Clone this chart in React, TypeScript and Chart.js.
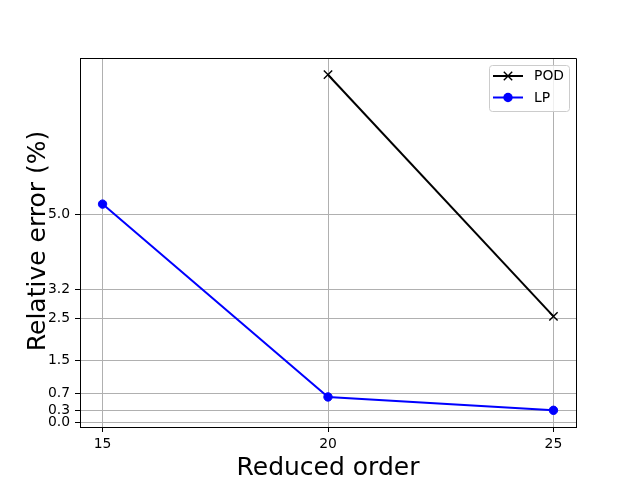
import React, { useEffect, useRef } from "react";
import { Chart, registerables } from "chart.js";

Chart.register(...registerables);

const orders = [15, 20, 25];
const podErrors: (number | null)[] = [null, 8.34, 2.55];
const lpErrors: (number | null)[] = [5.24, 0.62, 0.30];
const yTickValues = [0.0, 0.3, 0.7, 1.5, 2.5, 3.2, 5.0];
const xTickValues = [15, 20, 25];
const seriesNames = ["POD", "LP"];
const xTitle = "Reduced order";
const yTitle = "Relative error (%)";

const FONT = "'DejaVu Sans', 'Liberation Sans', sans-serif";

function toPoints(vals: (number | null)[]) {
  const pts: { x: number; y: number }[] = [];
  orders.forEach((o, i) => {
    const v = vals[i];
    if (v !== null && v !== undefined) pts.push({ x: o, y: v });
  });
  return pts;
}

const framePlugin = {
  id: "frameAndLabels",
  afterDraw(chart: any) {
    const { ctx, chartArea } = chart;
    ctx.save();
    // top & right spines
    ctx.strokeStyle = "#000";
    ctx.lineWidth = 1;
    ctx.beginPath();
    ctx.moveTo(Math.round(chartArea.left) + 0.5, Math.round(chartArea.top) + 0.5);
    ctx.lineTo(Math.round(chartArea.right) + 0.5, Math.round(chartArea.top) + 0.5);
    ctx.lineTo(Math.round(chartArea.right) + 0.5, Math.round(chartArea.bottom) + 0.5);
    ctx.stroke();

    // axis titles
    ctx.fillStyle = "#000";
    ctx.font = `25px ${FONT}`;
    ctx.textAlign = "center";
    ctx.textBaseline = "alphabetic";
    ctx.fillText(xTitle, (chartArea.left + chartArea.right) / 2, 475);
    ctx.save();
    ctx.translate(45, 241);
    ctx.rotate(-Math.PI / 2);
    ctx.fillText(yTitle, 0, 0);
    ctx.restore();

    // legend
    const lx = 489.5, ly = 65.5, lw = 80, lh = 46, r = 3;
    ctx.beginPath();
    ctx.moveTo(lx + r, ly);
    ctx.lineTo(lx + lw - r, ly);
    ctx.quadraticCurveTo(lx + lw, ly, lx + lw, ly + r);
    ctx.lineTo(lx + lw, ly + lh - r);
    ctx.quadraticCurveTo(lx + lw, ly + lh, lx + lw - r, ly + lh);
    ctx.lineTo(lx + r, ly + lh);
    ctx.quadraticCurveTo(lx, ly + lh, lx, ly + lh - r);
    ctx.lineTo(lx, ly + r);
    ctx.quadraticCurveTo(lx, ly, lx + r, ly);
    ctx.closePath();
    ctx.fillStyle = "rgba(255,255,255,0.8)";
    ctx.fill();
    ctx.strokeStyle = "#cccccc";
    ctx.lineWidth = 1;
    ctx.stroke();

    const rows = [
      { name: seriesNames[0], color: "#000000", y: 76, marker: "x" },
      { name: seriesNames[1], color: "#0000ff", y: 97.5, marker: "o" },
    ];
    rows.forEach((row) => {
      ctx.strokeStyle = row.color;
      ctx.lineWidth = 2;
      ctx.beginPath();
      ctx.moveTo(493, row.y);
      ctx.lineTo(523, row.y);
      ctx.stroke();
      const mx = 508;
      if (row.marker === "x") {
        ctx.lineWidth = 1.4;
        ctx.beginPath();
        ctx.moveTo(mx - 4.2, row.y - 4.2);
        ctx.lineTo(mx + 4.2, row.y + 4.2);
        ctx.moveTo(mx - 4.2, row.y + 4.2);
        ctx.lineTo(mx + 4.2, row.y - 4.2);
        ctx.stroke();
      } else {
        ctx.fillStyle = row.color;
        ctx.beginPath();
        ctx.arc(mx, row.y, 4.7, 0, Math.PI * 2);
        ctx.fill();
      }
      ctx.fillStyle = "#000";
      ctx.font = `13.9px ${FONT}`;
      ctx.textAlign = "left";
      ctx.textBaseline = "middle";
      ctx.fillText(row.name, 534, row.y + 0.5);
    });
    ctx.restore();
  },
};

export default function App() {
  const ref = useRef<HTMLCanvasElement | null>(null);

  useEffect(() => {
    document.body.style.margin = "0";
    const canvas = ref.current;
    if (!canvas) return;
    const chart = new Chart(canvas, {
      type: "line",
      data: {
        datasets: [
          {
            label: seriesNames[0],
            data: toPoints(podErrors),
            borderColor: "#000000",
            backgroundColor: "#000000",
            borderWidth: 2,
            pointStyle: "crossRot",
            pointRadius: 5.9,
            pointBorderWidth: 1.4,
            pointBorderColor: "#000000",
            tension: 0,
          },
          {
            label: seriesNames[1],
            data: toPoints(lpErrors),
            borderColor: "#0000ff",
            backgroundColor: "#0000ff",
            borderWidth: 2,
            pointStyle: "circle",
            pointRadius: 4.2,
            pointBorderWidth: 1,
            pointBorderColor: "#0000ff",
            pointBackgroundColor: "#0000ff",
            tension: 0,
          },
        ],
      },
      options: {
        animation: false,
        responsive: false,
        devicePixelRatio: 1,
        layout: { padding: { top: 58, right: 64, left: 0, bottom: 0 } },
        plugins: {
          legend: { display: false },
          tooltip: { enabled: false },
        },
        scales: {
          x: {
            type: "linear",
            min: 14.5,
            max: 25.5,
            afterFit(scale: any) {
              scale.height = 53;
            },
            afterBuildTicks(scale: any) {
              scale.ticks = xTickValues.map((v) => ({ value: v }));
            },
            ticks: {
              color: "#000",
              font: { family: FONT, size: 13.9 },
              padding: 4,
              maxRotation: 0,
              callback: (v: any) => String(v),
            },
            grid: {
              color: "#b0b0b0",
              lineWidth: 1,
              tickColor: "#000",
              tickLength: 5,
              tickWidth: 1,
            },
            border: { color: "#000", width: 1 },
          },
          y: {
            type: "linear",
            min: -0.1,
            max: 8.74,
            afterFit(scale: any) {
              scale.width = 80;
            },
            afterBuildTicks(scale: any) {
              scale.ticks = yTickValues.map((v) => ({ value: v }));
            },
            ticks: {
              color: "#000",
              font: { family: FONT, size: 13.9 },
              padding: 5,
              callback: (v: any) => Number(v).toFixed(1),
            },
            grid: {
              color: "#b0b0b0",
              lineWidth: 1,
              tickColor: "#000",
              tickLength: 5,
              tickWidth: 1,
            },
            border: { color: "#000", width: 1 },
          },
        },
      },
      plugins: [framePlugin],
    } as any);
    return () => chart.destroy();
  }, []);

  return (
    <div style={{ position: "absolute", left: 0, top: 0, width: 640, height: 480 }}>
      <canvas ref={ref} width={640} height={480} />
    </div>
  );
}
